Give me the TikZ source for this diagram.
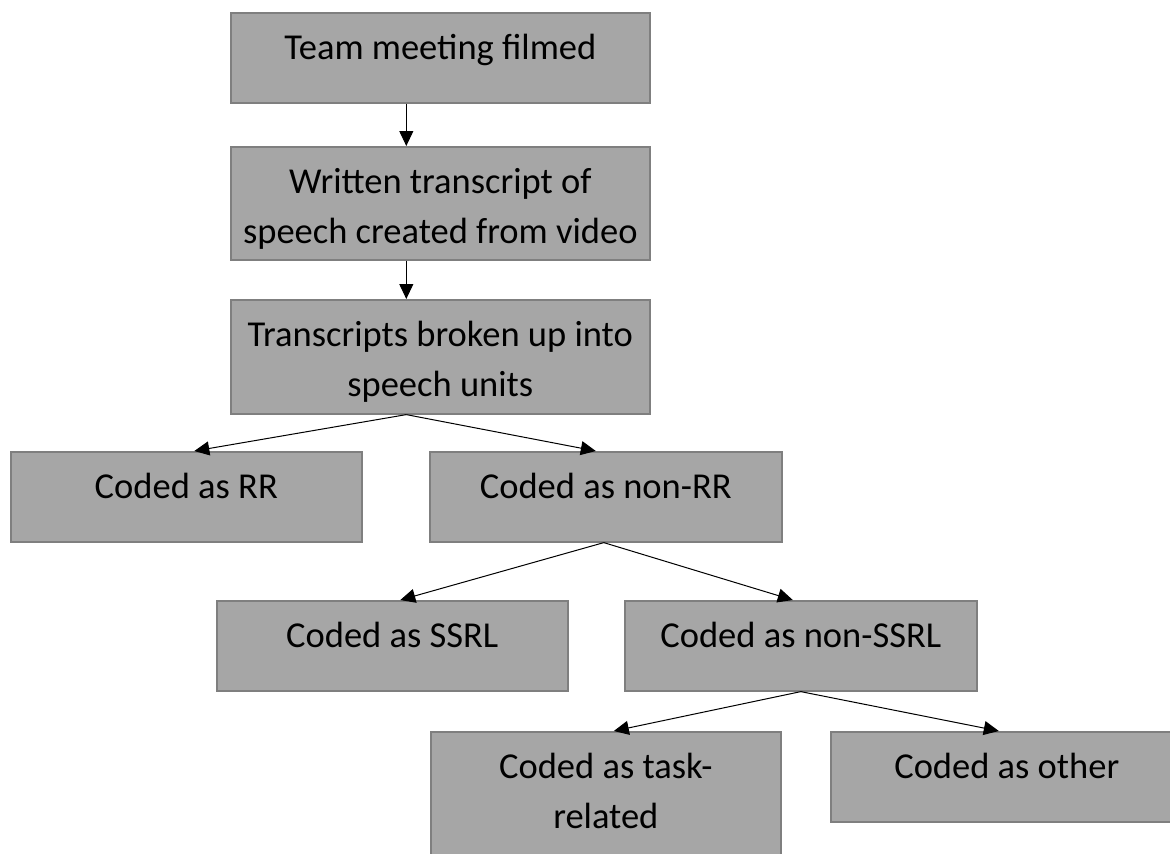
\documentclass[tikz,border=0pt]{standalone}
\usepackage{fontspec}
\setmainfont{Carlito}
\usetikzlibrary{arrows.meta}
\definecolor{boxFill}{HTML}{A6A6A6}
\definecolor{boxLine}{HTML}{7F7F7F}
\tikzstyle{chart} = [x = 0.5pt, y = -0.5pt]
\tikzstyle{boxStyle} = [draw=boxLine, fill=boxFill, line width=0.8pt, inner sep=0pt, anchor=north west]
\tikzstyle{flowArrow} = [-{Triangle[length=7.5pt,width=7pt]}, line width=0.5pt, color=black]
\newcommand{\boxText}[3]{\parbox[c][#2][t]{#1}{\vspace*{6pt}\centering\fontsize{18.25}{25}\selectfont\strut #3\par}}
\newcommand{\flowBox}[6]{\node [boxStyle] (#1) at (#2,#3) {\boxText{#4}{#5}{#6}};}

\begin{document}
\begin{tikzpicture}[chart]
\clip (0,0) rectangle (1170,853);
% top column
\flowBox{meetingBox}{230}{12}{209.5pt}{45pt}{Team meeting filmed}
\flowBox{transcriptBox}{230}{146}{209.5pt}{56.5pt}{Written transcript of\\speech created from video}
\flowBox{unitsBox}{230}{299}{209.5pt}{57pt}{Transcripts broken up into\\speech units}
% coding levels
\flowBox{rrBox}{10}{451}{175.5pt}{45pt}{Coded as RR}
\flowBox{nonRrBox}{429}{451}{176pt}{45pt}{Coded as non-RR}
\flowBox{ssrlBox}{216}{600}{175.5pt}{45pt}{Coded as SSRL}
\flowBox{nonSsrlBox}{624}{600}{176pt}{45pt}{Coded as non-SSRL}
\flowBox{taskBox}{430}{731}{175pt}{64pt}{Coded as task-\\related}
\flowBox{otherBox}{830}{731}{176pt}{45pt}{Coded as other}
% arrows
\draw [flowArrow] ([xshift=-17pt]meetingBox.south) -- ([xshift=-17pt]transcriptBox.north);
\draw [flowArrow] ([xshift=-17pt]transcriptBox.south) -- ([xshift=-17pt]unitsBox.north);
\draw [flowArrow] ([xshift=-17pt]unitsBox.south) -- ([xshift=4pt]rrBox.north);
\draw [flowArrow] ([xshift=-17pt]unitsBox.south) -- ([xshift=-5pt]nonRrBox.north);
\draw [flowArrow] ([xshift=-1pt]nonRrBox.south) -- ([xshift=4pt]ssrlBox.north);
\draw [flowArrow] ([xshift=-1pt]nonRrBox.south) -- ([xshift=-4pt]nonSsrlBox.north);
\draw [flowArrow] (nonSsrlBox.south) -- ([xshift=4pt]taskBox.north);
\draw [flowArrow] (nonSsrlBox.south) -- ([xshift=-4pt]otherBox.north);
\end{tikzpicture}
\end{document}
